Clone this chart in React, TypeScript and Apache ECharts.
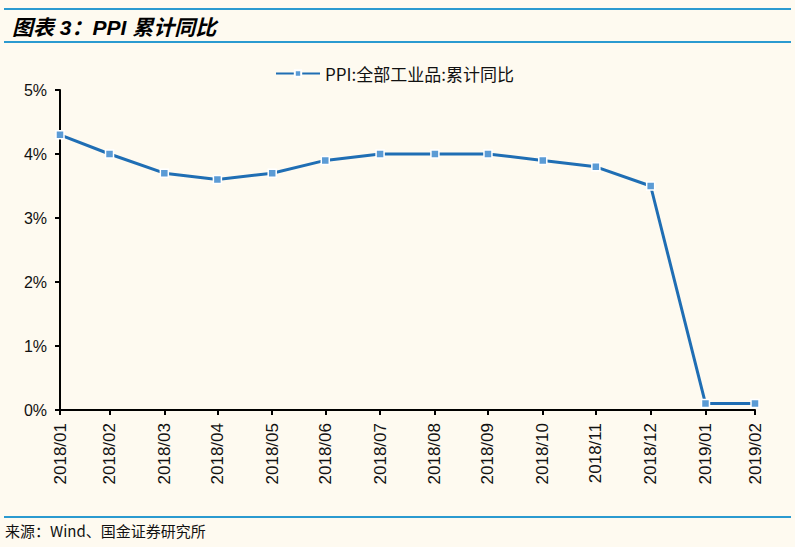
import React, { useEffect, useRef } from "react";
import * as echarts from "echarts";

const categories = [
  "2018/01", "2018/02", "2018/03", "2018/04", "2018/05", "2018/06", "2018/07",
  "2018/08", "2018/09", "2018/10", "2018/11", "2018/12", "2019/01", "2019/02",
];
const ppiValues = [4.3, 4.0, 3.7, 3.6, 3.7, 3.9, 4.0, 4.0, 4.0, 3.9, 3.8, 3.5, 0.1, 0.1];
const yTicks = [0, 1, 2, 3, 4, 5];
const seriesName = "PPI:全部工业品:累计同比";
const titleText = "图表 3：PPI 累计同比";
const sourceText = "来源：Wind、国金证券研究所";

// month-end timestamps (data points are month-end observations)
const monthEnd = (label: string) => {
  const [y, m] = label.split("/").map(Number);
  return Date.UTC(y, m, 0);
};
const xTimes = categories.map(monthEnd);

export default function App() {
  const ref = useRef<HTMLDivElement>(null);
  useEffect(() => {
    document.body.style.margin = "0";
    const chart = echarts.init(ref.current!, undefined, { renderer: "svg" });
    const font = "Arial, 'Liberation Sans', 'Noto Sans CJK SC', sans-serif";
    chart.setOption({
      animation: false,
      backgroundColor: "#FEFAF0",
      title: {
        text: titleText,
        left: 7,
        top: 12,
        textStyle: {
          fontSize: 21,
          fontWeight: "bold",
          fontStyle: "italic",
          color: "#000",
          fontFamily: "'Liberation Sans', 'Noto Sans CJK SC', sans-serif",
        },
      },
      legend: {
        top: 60,
        left: 270,
        itemWidth: 44,
        itemHeight: 8,
        itemGap: 4,
        textStyle: { fontSize: 17, color: "#111", fontFamily: "'Noto Sans CJK SC', sans-serif" },
        data: [{ name: seriesName }],
      },
      graphic: [
        { type: "rect", left: 4, top: 8, shape: { width: 787, height: 2 }, style: { fill: "#2B9AD0" } },
        { type: "rect", left: 4, top: 41, shape: { width: 787, height: 2 }, style: { fill: "#2B9AD0" } },
        { type: "rect", left: 4, top: 516, shape: { width: 787, height: 2 }, style: { fill: "#2B9AD0" } },
        {
          type: "text",
          left: 5,
          top: 523,
          style: { text: sourceText, fontSize: 15, fill: "#111", fontFamily: "'Noto Sans CJK SC', sans-serif" },
        },
      ],
      grid: { left: 60, right: 40, top: 90, bottom: 137 },
      xAxis: {
        type: "value",
        min: xTimes[0],
        max: xTimes[xTimes.length - 1],
        splitLine: { show: false },
        axisLine: { lineStyle: { color: "#000", width: 2 } },
        axisTick: {
          show: true,
          customValues: xTimes,
          length: 5,
          lineStyle: { color: "#000", width: 2 },
        },
        axisLabel: {
          customValues: xTimes,
          rotate: 90,
          margin: 13,
          fontSize: 17,
          color: "#111",
          fontFamily: font,
          formatter: (v: number) => {
            const i = xTimes.indexOf(v);
            return i >= 0 ? categories[i] : "";
          },
        },
      },
      yAxis: {
        type: "value",
        min: 0,
        max: 5,
        interval: 1,
        splitLine: { show: false },
        axisLine: { show: true, lineStyle: { color: "#000", width: 2 } },
        axisTick: { show: true, length: 5, lineStyle: { color: "#000", width: 2 } },
        axisLabel: {
          margin: 13,
          fontSize: 16,
          color: "#111",
          fontFamily: font,
          customValues: yTicks,
          formatter: (v: number) => v + "%",
        },
      },
      series: [
        {
          name: seriesName,
          type: "line",
          data: xTimes.map((t, i) => [t, ppiValues[i]]),
          lineStyle: { color: "#1F6EB4", width: 3 },
          itemStyle: { color: "#5B9BD5", borderColor: "#FFFFFF", borderWidth: 1.5 },
          symbol: "rect",
          symbolSize: 8,
          showSymbol: true,
          clip: false,
        },
      ],
    });
    return () => chart.dispose();
  }, []);
  return <div ref={ref} style={{ width: 795, height: 547 }} />;
}
